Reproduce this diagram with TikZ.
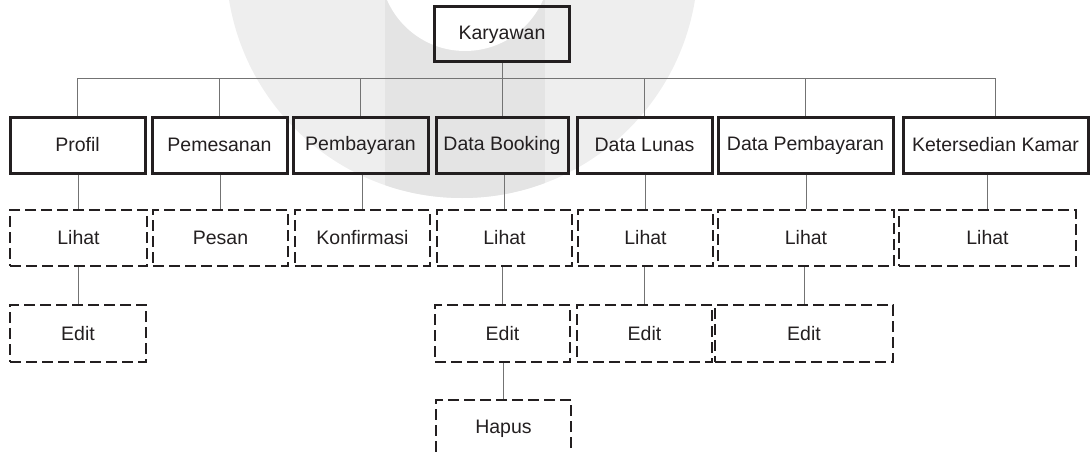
\documentclass[tikz,border=0pt]{standalone}
\usepackage{fontspec}
\setmainfont{Liberation Sans}
\definecolor{ink}{HTML}{231F20}
\definecolor{wmlight}{HTML}{EEEEEE}
\definecolor{wmdark}{HTML}{E4E4E4}
\begin{document}
\begin{tikzpicture}[x=1pt,y=-1pt,
  solidbox/.style={draw=ink,line width=3pt,rectangle,inner sep=0pt,minimum height=56pt,text=ink,font=\fontsize{19.5}{22}\selectfont},
  dashbox/.style={draw=ink,line width=2.9pt,dash pattern=on 11pt off 5pt,rectangle,inner sep=0pt,minimum height=56pt,text=ink,font=\fontsize{19.5}{22}\selectfont},
  conn/.style={draw=black!55,line width=0.9pt}]
\useasboundingbox (0,0) rectangle (1092,452);
\clip (0,0) rectangle (1092,452);
% watermark
\fill[wmlight] (462,-38) circle (236);
\begin{scope}
  \clip (462,-38) circle (236);
  \fill[wmdark] (385,-10) rectangle (545,300);
\end{scope}
\fill[white] (465,-34) circle (85);
% root
\node[solidbox,minimum width=135pt,minimum height=55pt] (kar) at (502,34.5) {Karyawan};
% level 1
\node[solidbox,minimum width=135pt] (prof) at (77.5,145) {Profil};
\node[solidbox,minimum width=135pt] (pems) at (219.5,145) {Pemesanan};
\node[solidbox,minimum width=135pt] (pemb) at (360.5,145) {Pembayaran};
\node[solidbox,minimum width=132pt] (db) at (502,145) {Data Booking};
\node[solidbox,minimum width=135pt] (dl) at (644.5,145) {Data Lunas};
\node[solidbox,minimum width=175pt] (dp) at (805.5,145) {Data Pembayaran};
\node[solidbox,minimum width=185pt] (kk) at (995.5,145) {Ketersedian Kamar};
% level 2
\node[dashbox,minimum width=137pt] (profl) at (78.5,238) {Lihat};
\node[dashbox,minimum width=135pt] (pesan) at (220.5,238) {Pesan};
\node[dashbox,minimum width=135pt] (konf) at (362.5,238) {Konfirmasi};
\node[dashbox,minimum width=135pt] (dbl) at (504.5,238) {Lihat};
\node[dashbox,minimum width=135pt] (dll) at (645.5,238) {Lihat};
\node[dashbox,minimum width=176pt] (dpl) at (806,238) {Lihat};
\node[dashbox,minimum width=177pt] (kkl) at (987.5,238) {Lihat};
% level 3
\node[dashbox,minimum width=136pt,minimum height=57pt] (profe) at (78,333.5) {Edit};
\node[dashbox,minimum width=135pt,minimum height=57pt] (dbe) at (502.5,333.5) {Edit};
\node[dashbox,minimum width=135pt,minimum height=57pt] (dle) at (644.5,333.5) {Edit};
\node[dashbox,minimum width=178pt,minimum height=57pt] (dpe) at (804,333.5) {Edit};
% level 4
\node[dashbox,minimum width=135pt,minimum height=57pt] (dbh) at (503.5,428.5) {Hapus};
% connectors
\coordinate (bus) at (0,78);
\draw[conn] (prof.north |- bus) -- (kk.north |- bus);
\draw[conn] (kar.south) -- (kar.south |- bus);
\foreach \n in {prof,pems,pemb,db,dl,dp,kk}
  \draw[conn] (\n.north) -- (\n.north |- bus);
\draw[conn] (profl.north |- prof.south) -- (profl.north);
\draw[conn] (pesan.north |- pems.south) -- (pesan.north);
\draw[conn] (konf.north |- pemb.south) -- (konf.north);
\draw[conn] (dbl.north |- db.south) -- (dbl.north);
\draw[conn] (dll.north |- dl.south) -- (dll.north);
\draw[conn] (dpl.north |- dp.south) -- (dpl.north);
\draw[conn] (kkl.north |- kk.south) -- (kkl.north);
\draw[conn] (profe.north |- profl.south) -- (profe.north);
\draw[conn] (dbe.north |- dbl.south) -- (dbe.north);
\draw[conn] (dle.north |- dll.south) -- (dle.north);
\draw[conn] (dpe.north |- dpl.south) -- (dpe.north);
\draw[conn] (dbh.north |- dbe.south) -- (dbh.north);
\end{tikzpicture}
\end{document}
